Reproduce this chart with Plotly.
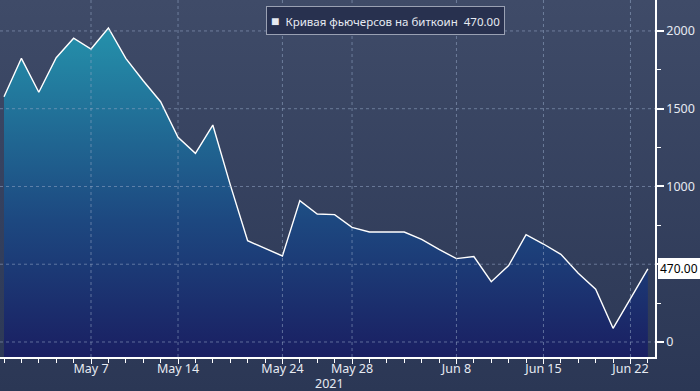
import base64
import plotly.graph_objects as go

# ---------------- data ----------------
dates = [
    "2021-04-30",
    "2021-05-03", "2021-05-04", "2021-05-05", "2021-05-06", "2021-05-07",
    "2021-05-10", "2021-05-11", "2021-05-12", "2021-05-13", "2021-05-14",
    "2021-05-17", "2021-05-18", "2021-05-19", "2021-05-20", "2021-05-21",
    "2021-05-24", "2021-05-25", "2021-05-26", "2021-05-27", "2021-05-28",
    "2021-06-01", "2021-06-02", "2021-06-03", "2021-06-04",
    "2021-06-07", "2021-06-08", "2021-06-09", "2021-06-10", "2021-06-11",
    "2021-06-14", "2021-06-15", "2021-06-16", "2021-06-17", "2021-06-18",
    "2021-06-21", "2021-06-22", "2021-06-23",
]
values = [
    1577,
    1824, 1606, 1828, 1953, 1884,
    2019, 1824, 1680, 1545, 1316,
    1213, 1395, 1012, 651, 603,
    553, 909, 823, 819, 737,
    707, 707, 707, 660,
    595, 536, 549, 388, 491,
    690, 630, 564, 442, 339,
    88, 279, 470,
]
tick_dates = ["2021-05-07", "2021-05-14", "2021-05-24", "2021-05-28",
              "2021-06-08", "2021-06-15", "2021-06-22"]
tick_labels = ["May 7", "May 14", "May 24", "May 28", "Jun 8", "Jun 15", "Jun 22"]
y_tickvals = [0, 500, 1000, 1500, 2000]
y_ticktext = ["0", "", "1000", "1500", "2000"]
year_label = "2021"
series_name = "Кривая фьючерсов на биткоин"
last_value = values[-1]

# ---------------- layout constants ----------------
Y_MIN, Y_MAX = -96.5, 2199
X_MIN, X_MAX = -0.23, 37.41
FONT = "Noto Sans"
TXT = "#e6eaf2"
GRID = "rgba(150,168,198,0.55)"

x_pos = list(range(len(dates)))
tick_pos = [dates.index(d) for d in tick_dates]

fig = go.Figure()
fig.add_trace(go.Scatter(
    x=x_pos, y=[Y_MIN] * len(x_pos), mode="lines",
    line=dict(width=0), hoverinfo="skip", showlegend=False,
))
fig.add_trace(go.Scatter(
    x=x_pos, y=values, mode="lines", name=series_name,
    line=dict(color="white", width=1.4),
    fill="tonexty",
    fillgradient=dict(
        type="vertical", start=Y_MIN, stop=2100,
        colorscale=[[0, "#1a1f62"], [0.4, "#1d4880"], [1, "#2596ae"]],
    ),
    showlegend=False,
))

# background gradient
svg = ('<svg xmlns="http://www.w3.org/2000/svg" width="700" height="391" '
       'preserveAspectRatio="none"><defs><linearGradient id="g" x1="0" y1="0" '
       'x2="0" y2="1"><stop offset="0" stop-color="#3f4b68"/>'
       '<stop offset="1" stop-color="#2b3755"/></linearGradient></defs>'
       '<rect width="700" height="391" fill="url(#g)"/></svg>')
src = "data:image/svg+xml;base64," + base64.b64encode(svg.encode()).decode()

L, R, T, B = 0, 45, 0, 34
W, H = 700, 391
pw, ph = W - L - R, H - T - B

shapes = []
for yv in y_tickvals:
    shapes.append(dict(type="line", xref="paper", x0=0, x1=1, yref="y", y0=yv, y1=yv,
                       line=dict(color=GRID, width=1, dash="3px,3px"), layer="above"))
for xp in tick_pos:
    shapes.append(dict(type="line", yref="paper", y0=0, y1=1, xref="x", x0=xp, x1=xp,
                       line=dict(color=GRID, width=1, dash="3px,3px"), layer="above"))

fig.update_layout(
    width=W, height=H,
    margin=dict(l=L, r=R, t=T, b=B, pad=0, autoexpand=False),
    paper_bgcolor="#354160",
    plot_bgcolor="rgba(0,0,0,0)",
    font=dict(family=FONT, size=12.5, color=TXT),
    showlegend=False,
    shapes=shapes,
    images=[dict(source=src, xref="paper", yref="paper", x=-L / pw, y=1 + T / ph,
                 sizex=W / pw, sizey=H / ph, xanchor="left", yanchor="top",
                 sizing="stretch", layer="below")],
    xaxis=dict(
        range=[X_MIN, X_MAX], showgrid=False, zeroline=False,
        tickmode="array", tickvals=tick_pos, ticktext=tick_labels,
        ticks="outside", ticklen=5, tickcolor="white", tickwidth=1,
        ticklabelstandoff=-6,
        showline=True, linecolor="white", linewidth=2,
        minor=dict(dtick=1, tick0=0, ticks="outside", ticklen=4,
                   tickcolor="white", tickwidth=1, showgrid=False),
        tickfont=dict(size=12.5, color=TXT, family=FONT),
    ),
    yaxis=dict(
        side="right", range=[Y_MIN, Y_MAX], showgrid=False, zeroline=False,
        tickmode="array", tickvals=y_tickvals, ticktext=y_ticktext,
        ticks="outside", ticklen=7, tickcolor="white", tickwidth=2,
        showline=True, linecolor="white", linewidth=1.5,
        minor=dict(dtick=250, tick0=0, ticks="outside", ticklen=4,
                   tickcolor="white", tickwidth=1, showgrid=False),
        tickfont=dict(size=12.5, color=TXT, family=FONT),
    ),
    annotations=[
        dict(text=year_label, xref="paper", yref="paper", x=329 / pw, y=-(383 - ph) / ph,
             xanchor="center", yanchor="middle", showarrow=False,
             font=dict(size=12.5, color=TXT, family=FONT)),
        dict(text=f"{last_value:.2f}", xref="paper", yref="y", x=1.005, y=last_value,
             xanchor="left", yanchor="middle", showarrow=False,
             bgcolor="white", bordercolor="white", borderwidth=1, borderpad=1,
             font=dict(size=12, color="black", family=FONT)),
        dict(text=f"<span style='font-size:14px'>■</span>  {series_name}  {last_value:.2f}",
             xref="paper", yref="paper", x=385 / pw, y=1 - 20.5 / ph,
             xanchor="center", yanchor="middle", showarrow=False,
             bgcolor="#28314f", bordercolor="#9aa1b3", borderwidth=1, borderpad=4,
             font=dict(size=11.5, color=TXT, family=FONT)),
    ],
)

fig.write_html(
    "out.html",
    config={"displayModeBar": False},
    post_script="document.body.style.margin='0';document.body.style.overflow='hidden';",
)
